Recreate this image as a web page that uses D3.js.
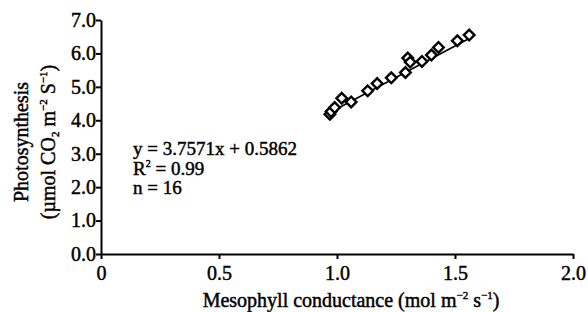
<!DOCTYPE html>
<meta charset="utf-8">
<title>Photosynthesis vs mesophyll conductance</title>
<script src="https://d3js.org/d3.v7.min.js"></script>
<style>
	body { margin: 0; background: #fff; }
	text { font-family: "Liberation Serif", "Times New Roman", serif; fill: #000; stroke: #000; stroke-width: 0.45px; }
	.axis path, .axis line { stroke: #000; stroke-width: 2px; }
	.axis text { font-size: 20px; }
</style>
<body>
<div id="chart"></div>
<script>

// values
var conductance = [0.97, 0.975, 0.99, 1.02, 1.06, 1.13, 1.17, 1.23, 1.29, 1.30, 1.31, 1.36, 1.40, 1.43, 1.51, 1.56];
var photosynthesis = [4.18, 4.26, 4.38, 4.66, 4.55, 4.88, 5.10, 5.27, 5.43, 5.86, 5.74, 5.76, 5.95, 6.18, 6.38, 6.55];
var xTicks = [0, 0.5, 1.0, 1.5, 2.0];
var xTickLabels = ["0", "0.5", "1.0", "1.5", "2.0"];
var yTicks = [0, 1, 2, 3, 4, 5, 6, 7];
var fitSlope = 3.7571, fitIntercept = 0.5862;
var fitRange = [0.97, 1.57];

var width = 588, height = 312;
var margin = {top: 20, right: 15, bottom: 58, left: 101};

var svg = d3.select("#chart").append("svg")
	.attr("width", width)
	.attr("height", height);

var x = d3.scaleLinear().domain([0, 2]).range([margin.left, width - margin.right]);
var y = d3.scaleLinear().domain([0, 7]).range([height - margin.bottom, margin.top]);

svg.append("g")
	.attr("class", "axis")
	.attr("transform", "translate(0," + y(0) + ")")
	.call(d3.axisBottom(x).tickValues(xTicks).tickSize(5).tickSizeOuter(0)
		.tickFormat(function(d, i) { return xTickLabels[i]; }))
	.selectAll("text").attr("dy", "0.9em");

svg.append("g")
	.attr("class", "axis")
	.attr("transform", "translate(" + x(0) + ",0)")
	.call(d3.axisLeft(y).tickValues(yTicks).tickSize(5).tickSizeOuter(0)
		.tickFormat(d3.format(".1f")))
	.selectAll("text").attr("dx", "0.15em");

svg.selectAll(".axis .domain").attr("stroke-width", 2.4);

// regression line
var line = d3.line().x(function(d) { return x(d); }).y(function(d) { return y(fitSlope * d + fitIntercept); });
svg.append("path")
	.attr("d", line(fitRange))
	.attr("fill", "none")
	.attr("stroke", "#000")
	.attr("stroke-width", 1.6);

// diamonds
var diamond = d3.symbol().type(d3.symbolSquare).size(56);
svg.selectAll(".pt")
	.data(conductance)
	.enter().append("path")
	.attr("class", "pt")
	.attr("d", diamond)
	.attr("transform", function(d, i) { return "translate(" + x(d) + "," + y(photosynthesis[i]) + ") rotate(45)"; })
	.attr("fill", "#fff")
	.attr("stroke", "#000")
	.attr("stroke-width", 2.4);

// equation
var eq = svg.append("g").attr("font-size", 19);
eq.append("text").attr("x", 133).attr("y", 155).text("y = 3.7571x + 0.5862");
var r2 = eq.append("text").attr("x", 133).attr("y", 174.5);
r2.append("tspan").text("R");
r2.append("tspan").attr("font-size", 10).attr("dy", -8).text("2");
r2.append("tspan").attr("dy", 8).text(" = 0.99");
eq.append("text").attr("x", 133).attr("y", 194).text("n = 16");

// x axis title
var xt = svg.append("text")
	.attr("x", (x(0) + x(2)) / 2 + 14)
	.attr("y", 307)
	.attr("text-anchor", "middle")
	.attr("font-size", 20);
xt.append("tspan").text("Mesophyll conductance (mol m");
xt.append("tspan").attr("font-size", 11).attr("dy", -8).text("\u22122");
xt.append("tspan").attr("dy", 8).text(" s");
xt.append("tspan").attr("font-size", 11).attr("dy", -8).text("\u22121");
xt.append("tspan").attr("dy", 8).text(")");

// y axis title
var yt = svg.append("g").attr("transform", "translate(0," + 142 + ") rotate(-90)");
yt.append("text")
	.attr("x", 0).attr("y", 28)
	.attr("text-anchor", "middle")
	.attr("font-size", 20)
	.text("Photosynthesis");
var yt2 = yt.append("text")
	.attr("x", 0).attr("y", 55)
	.attr("text-anchor", "middle")
	.attr("font-size", 20);
yt2.append("tspan").text("(\u00b5mol CO");
yt2.append("tspan").attr("font-size", 11).attr("dy", 4).text("2");
yt2.append("tspan").attr("dy", -4).text(" m");
yt2.append("tspan").attr("font-size", 11).attr("dy", -8).text("\u22122");
yt2.append("tspan").attr("dy", 8).text(" S");
yt2.append("tspan").attr("font-size", 11).attr("dy", -8).text("\u22121");
yt2.append("tspan").attr("dy", 8).text(")");

</script>
</body>
